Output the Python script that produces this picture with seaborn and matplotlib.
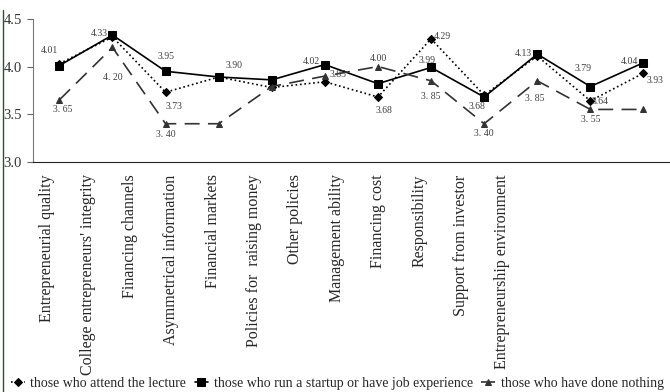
import matplotlib
matplotlib.use("Agg")
import matplotlib.pyplot as plt
import seaborn as sns
import pandas as pd

categories = ["Entrepreneurial quality", "College entrepreneurs' integrity",
              "Financing channels", "Asymmetrical information", "Financial markets",
              "Policies for  raising money", "Other policies", "Management ability",
              "Financing cost", "Responsibility", "Support from investor",
              "Entrepreneurship environment"]

lecture = [4.03, 4.31, 3.73, 3.89, 3.78, 3.84, 3.68, 4.29, 3.70, 4.11, 3.64, 3.93]
startup = [4.01, 4.33, 3.95, 3.89, 3.86, 4.02, 3.82, 3.99, 3.68, 4.13, 3.79, 4.04]
nothing = [3.65, 4.20, 3.40, 3.40, 3.79, 3.90, 4.00, 3.85, 3.40, 3.85, 3.55, 3.55]

series_names = ["those who attend the lecture",
                "those who run a startup or have job experience",
                "those who have done nothing"]

# labels: index -> (text, dx px, dy px)
startup_labels = {0: ("4.01", -10, 15), 1: ("4.33", -13, 2), 2: ("3.95", 0, 15),
                  3: ("3.90", 15, 12), 5: ("4.02", -14, 3), 7: ("3.99", -4, 7),
                  8: ("3.68", -7, -9), 9: ("4.13", -14, 1), 10: ("3.79", -7, 18),
                  11: ("4.04", -14, 1)}
lecture_labels = {2: ("3.73", 8, -14), 5: ("3.85", 13, 7), 6: ("3.68", 6, -13),
                  7: ("4.29", 11, 2), 10: ("3.64", 10, -1), 11: ("3.93", 12, -7)}
nothing_labels = {0: ("3. 65", 3, -10), 1: ("4. 20", 0, -30), 2: ("3. 40", 0, -11),
                  6: ("4.00", 0, 8), 7: ("3. 85", 0, -16), 8: ("3. 40", 0, -10),
                  9: ("3. 85", -3, -18), 10: ("3. 55", 0, -10)}

sns.set_style("white")
plt.rcParams["font.family"] = ["Liberation Serif", "DejaVu Serif"]

fig = plt.figure(figsize=(6.7, 3.92), dpi=100)
ax = fig.add_axes([0.049, 0.587, 0.951, 0.365])

x = list(range(len(categories)))
styles = [
    (lecture, ":", "D", 4, "black"),
    (startup, "-", "s", 6, "black"),
    (nothing, (0, (9, 5)), "^", 5, "#333333"),
]
for (vals, ls, mk, ms, col), name in zip(styles, series_names):
    df = pd.DataFrame({"x": x, "y": vals})
    sns.lineplot(data=df, x="x", y="y", ax=ax, color=col, linestyle=ls, marker=mk,
                 markersize=ms, markeredgecolor=col, linewidth=1.2, label=name)

for vals, labs in [(startup, startup_labels), (lecture, lecture_labels),
                   (nothing, nothing_labels)]:
    for i, (txt, dx, dy) in labs.items():
        ax.annotate(txt, (i, vals[i]), xytext=(dx, dy), textcoords="offset pixels",
                    ha="center", va="center", fontsize=7, color="#404040")

ax.set_xlim(-0.5, 11.5)
ax.set_ylim(3.0, 4.5)
ax.set_yticks([3.0, 3.5, 4.0, 4.5])
ax.set_yticklabels(["3.0", "3.5", "4.0", "4.5"], fontsize=10.5, color="#333333")
ax.set_xticks([])
ax.tick_params(axis="y", length=4, width=0.8, left=True, pad=4, color="#666666")
for s in ["top", "right"]:
    ax.spines[s].set_visible(False)
ax.spines["left"].set_color("#777777")
ax.spines["left"].set_linewidth(0.8)
ax.spines["bottom"].set_color("#222222")
ax.set_xlabel("")
ax.set_ylabel("")

# category labels sit on a narrower band than the points, as in the original
lab_ax = ax.twiny()
lab_ax.xaxis.set_ticks_position("bottom")
lab_ax.set_xlim(-0.34, 15.05)
lab_ax.set_xticks(x)
lab_ax.set_xticklabels(categories, rotation=90, fontsize=11.5, va="top")
lab_ax.tick_params(axis="x", length=0, pad=9)
for s in lab_ax.spines.values():
    s.set_visible(False)

ax.legend(loc="center", bbox_to_anchor=(0.478, -1.55), ncol=3, frameon=False,
          fontsize=10, handlelength=1.0, handletextpad=0.4, columnspacing=0.6,
          borderaxespad=0, borderpad=0)

fig.add_artist(plt.Line2D([0.004, 0.004], [0.0, 0.975], color="#2f4f2f", linewidth=1))

fig.savefig("out.png", dpi=100)
